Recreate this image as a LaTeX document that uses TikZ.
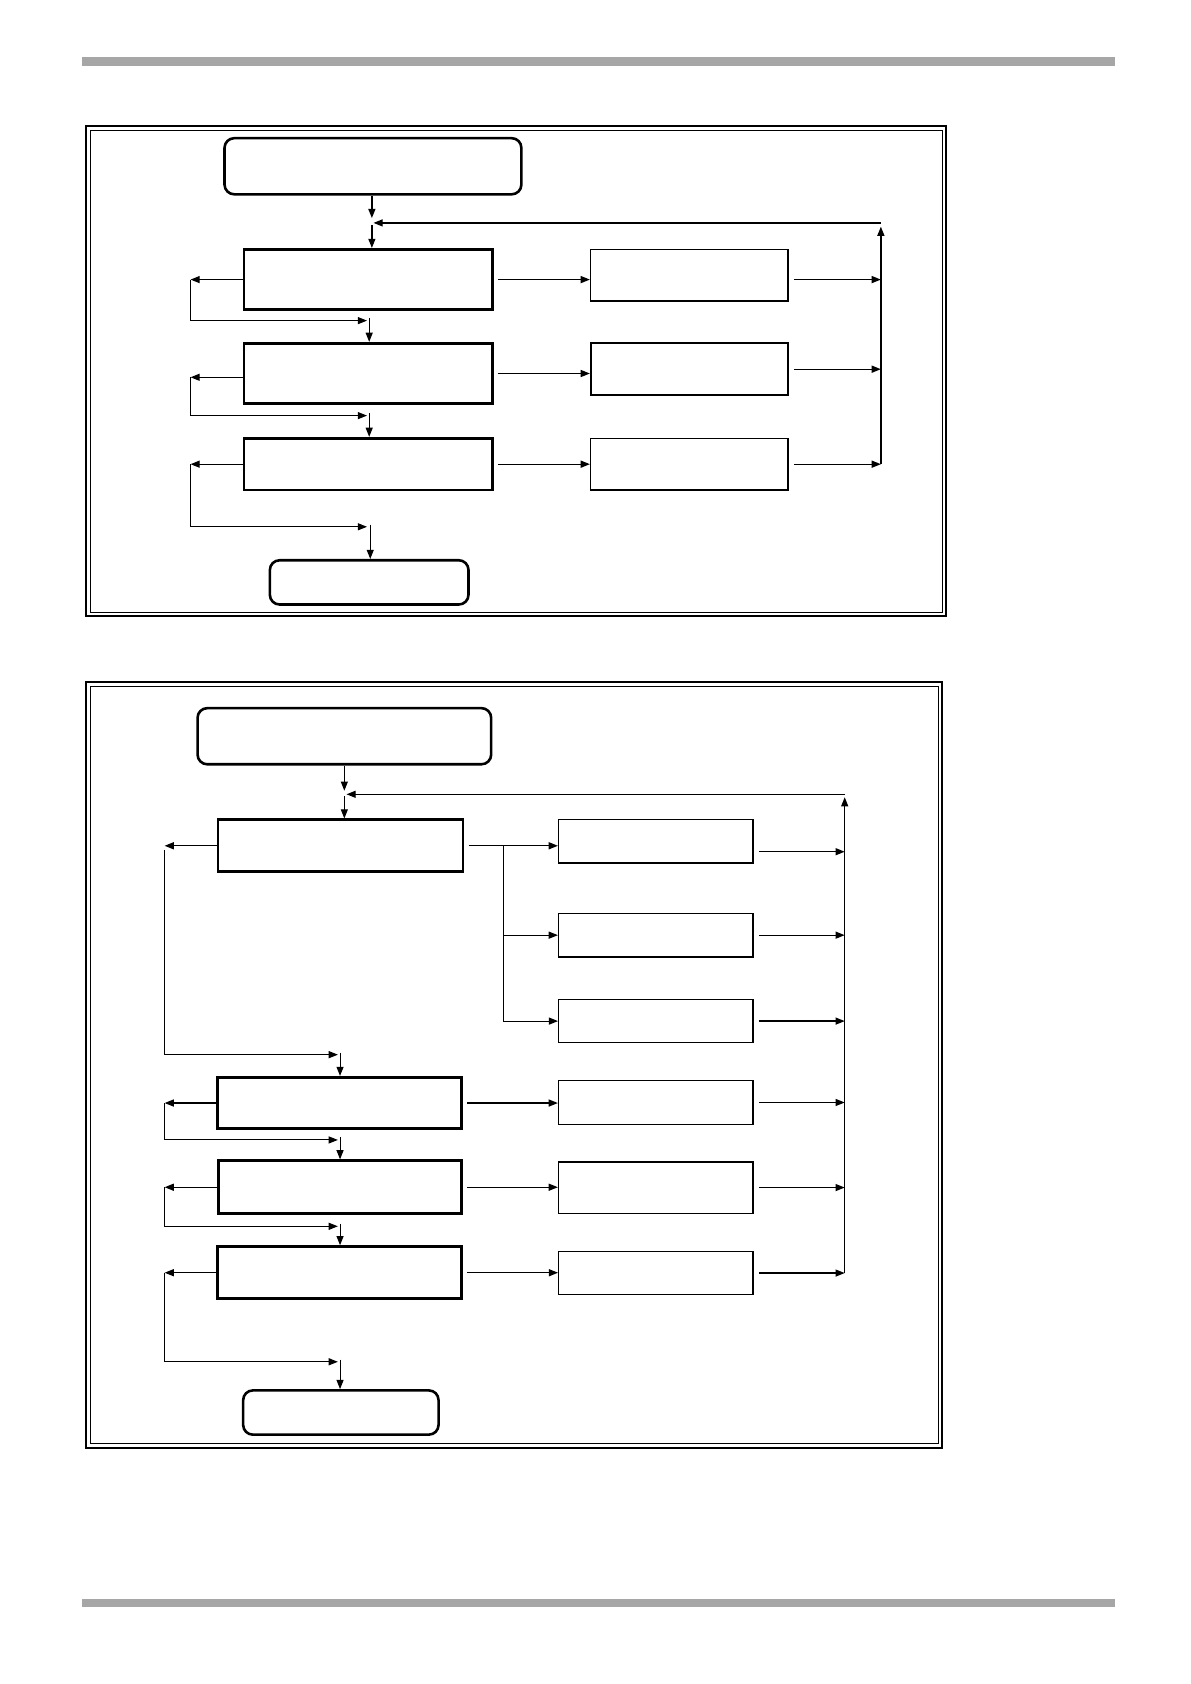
\documentclass[tikz,border=0pt]{standalone}
\usetikzlibrary{arrows.meta,calc}
\definecolor{bargray}{HTML}{A6A6A6}
\begin{document}
\begin{tikzpicture}[x=1pt,y=-1pt,
  arr/.style={-{Triangle[length=8.5pt,width=6.5pt]}, line width=1.2pt},
  tarr/.style={-{Triangle[length=8.5pt,width=6.5pt]}, line width=1pt},
  ln/.style={line width=1.2pt},
  termbox/.style={draw, rounded corners=9pt, line width=2.4pt, inner sep=0pt},
  mainbox/.style={draw, line width=2.6pt, inner sep=0pt},
  subbox/.style={draw, line width=1.1pt, inner sep=0pt},
  frameout/.style={line width=2pt},
  framein/.style={line width=0.9pt}]
\useasboundingbox (0,0) rectangle (1102.4,1560);
% header / footer bars
\fill[bargray] (76,53) rectangle (1032.6,61);
\fill[bargray] (76,1481) rectangle (1032.6,1489);

% ================= diagram 1 =================
\draw[frameout] (80,117) rectangle (876.5,571);
\draw[framein] (83.5,120.5) rectangle (873,567.5);

\node[termbox, minimum width=275pt, minimum height=52pt] (s1) at (345.5,154) {};
\node[mainbox, minimum width=230pt, minimum height=56pt] (m1) at (341,259) {};
\node[mainbox, minimum width=230pt, minimum height=56pt] (m2) at (341,346) {};
\node[mainbox, minimum width=230pt, minimum height=48pt] (m3) at (341,430) {};
\node[subbox, minimum width=183pt, minimum height=47.5pt] (r1) at (638.5,255) {};
\node[subbox, line width=1.5pt, minimum width=183pt, minimum height=48pt] (r2) at (638.7,342) {};
\node[subbox, minimum width=183pt, minimum height=48pt] (r3) at (638.5,430) {};
\node[termbox, minimum width=184pt, minimum height=41pt] (e1) at (342,539.5) {};

\coordinate (j1tip) at (344.5,202);
\coordinate (j1) at (346,206.5);
\coordinate (j1out) at (344.5,208);
\coordinate (fb1) at (816,206.5);
\coordinate (v1top) at (816,210);
\coordinate (v1bot) at (816,430);
\draw[arr] (s1.south -| j1tip) -- (j1tip);
\draw[arr] (fb1) -- (j1);
\draw[arr] (j1out) -- (j1out |- m1.north);
\draw[arr] (v1bot) -- (v1top);

% main -> right boxes -> collector
\draw[arr] ($(m1.east)+(4,0)$) -- (m1.east -| r1.west);
\draw[arr] ($(r1.east |- m1.east)+(5,0)$) -- (m1.east -| v1bot);
\draw[arr] ($(m2.east)+(4,0)$) -- (m2.east -| r2.west);
\draw[arr] ($(r2.east)+(5,0)$) -- (r2.east -| v1bot);
\draw[arr] ($(m3.east)+(4,0)$) -- (m3.east -| r3.west);
\draw[arr] ($(r3.east)+(5,0)$) -- (v1bot);

% left exits and bypasses
\coordinate (L1) at (176.5,259);
\coordinate (B1) at (340,297);
\coordinate (D1) at (342,294.5);
\coordinate (L2) at (176.5,349.5);
\coordinate (B2) at (340,385);
\coordinate (D2) at (342,383);
\coordinate (L3) at (176.5,430);
\coordinate (B3) at (340,488);
\coordinate (D3) at (343,486);
\draw[arr] (m1.west) -- (L1);
\draw[tarr] (L1) |- (B1);
\draw[tarr] (D1) -- (D1 |- m2.north);
\draw[arr] (m2.west |- L2) -- (L2);
\draw[tarr] (L2) |- (B2);
\draw[tarr] (D2) -- (D2 |- m3.north);
\draw[arr] (m3.west) -- (L3);
\draw[tarr] (L3) |- (B3);
\draw[tarr] (D3) -- (D3 |- e1.north);

% ================= diagram 2 =================
\draw[frameout] (80,632) rectangle (873,1341);
\draw[framein] (83.5,635.5) rectangle (869.5,1337.5);

\node[termbox, minimum width=272pt, minimum height=52pt] (s2) at (319,682) {};
\node[mainbox, minimum width=227pt, minimum height=48pt] (a1) at (315.4,783.5) {};
\node[subbox, line width=1.4pt, minimum width=180pt, minimum height=40.5pt] (b1) at (607.5,779.3) {};
\node[subbox, line width=1.4pt, minimum width=180pt, minimum height=40.5pt] (b2) at (607.5,866.3) {};
\node[subbox, minimum width=180pt, minimum height=40.2pt] (b3) at (607.5,945.9) {};
\node[mainbox, minimum width=226pt, minimum height=47.6pt] (a2) at (314.7,1021.8) {};
\node[subbox, line width=1.4pt, minimum width=180pt, minimum height=40.6pt] (b4) at (607.5,1021.3) {};
\node[mainbox, minimum width=225pt, minimum height=49pt] (a3) at (315.2,1099.8) {};
\node[subbox, line width=1.4pt, minimum width=180pt, minimum height=47.8pt] (b5) at (607.5,1100.1) {};
\node[mainbox, minimum width=226pt, minimum height=48.4pt] (a4) at (314.7,1179) {};
\node[subbox, minimum width=180pt, minimum height=39.6pt] (b6) at (607.5,1179.3) {};
\node[termbox, minimum width=181pt, minimum height=41pt] (e2) at (315.75,1308.5) {};

\coordinate (j2tip) at (319,732.5);
\coordinate (j2) at (321,735.8);
\coordinate (j2out) at (319,737.5);
\coordinate (fb2) at (782.5,735.8);
\coordinate (v2top) at (782.5,738.5);
\coordinate (v2bot) at (782.5,1179.3);
\draw[tarr] (s2.south) -- (j2tip);
\draw[arr] (fb2) -- (j2);
\draw[tarr] (j2out) -- (j2out |- a1.north);
\draw[arr] (v2bot) -- (v2top);

% branch from a1 to b1, b2, b3
\coordinate (br) at (466,783.5);
\draw[ln] ($(a1.east)+(4,0)$) -- (br);
\draw[arr] (br) -- (br -| b1.west);
\draw[tarr] (br) |- (b3.west);
\draw[tarr] (br |- b2.west) -- (b2.west);

% right boxes -> collector
\draw[arr] ($(b1.east)+(5,9.7)$) -- ($(b1.east -| v2bot)+(0,9.7)$);
\draw[arr] ($(b2.east)+(5,0)$) -- (b2.east -| v2bot);
\draw[arr] ($(b3.east)+(5,0)$) -- (b3.east -| v2bot);
\draw[arr] ($(b4.east)+(5,0)$) -- (b4.east -| v2bot);
\draw[arr] ($(b5.east)+(5,0)$) -- (b5.east -| v2bot);
\draw[arr] ($(b6.east)+(5,0)$) -- (v2bot);

% main -> right boxes
\draw[arr] ($(a2.east)+(4,0)$) -- (a2.east -| b4.west);
\draw[arr] ($(a3.east)+(4,0)$) -- (a3.east -| b5.west);
\draw[arr] ($(a4.east)+(4,0)$) -- (a4.east -| b6.west);

% left exits and bypasses
\coordinate (L4) at (152.5,783.5);
\coordinate (V4) at (152.5,787);
\coordinate (B4) at (313,977);
\coordinate (D4) at (315,975);
\coordinate (L5) at (152.5,1021.8);
\coordinate (B5) at (313,1056);
\coordinate (D5) at (315,1053.5);
\coordinate (L6) at (152.5,1099.8);
\coordinate (B6) at (313,1136);
\coordinate (D6) at (315,1133.5);
\coordinate (L7) at (152.5,1179);
\coordinate (B7) at (313,1261.5);
\coordinate (D7) at (315,1259.5);
\draw[arr] (a1.west) -- (L4);
\draw[tarr] (V4) |- (B4);
\draw[tarr] (D4) -- (D4 |- a2.north);
\draw[arr] (a2.west) -- (L5);
\draw[tarr] (L5) |- (B5);
\draw[tarr] (D5) -- (D5 |- a3.north);
\draw[arr] (a3.west) -- (L6);
\draw[tarr] (L6) |- (B6);
\draw[tarr] (D6) -- (D6 |- a4.north);
\draw[arr] (a4.west) -- (L7);
\draw[tarr] (L7) |- (B7);
\draw[tarr] (D7) -- (D7 |- e2.north);
\end{tikzpicture}
\end{document}
